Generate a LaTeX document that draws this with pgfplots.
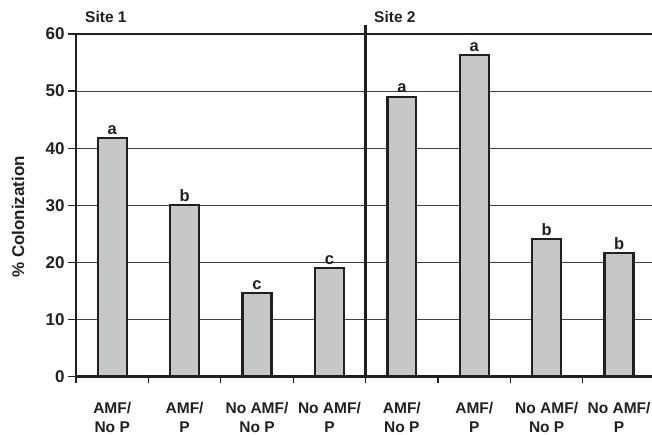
\documentclass[border=0pt]{standalone}
\usepackage{pgfplots}
\pgfplotsset{compat=1.18}
\usepackage{fontspec}
\setmainfont{Liberation Sans}
\definecolor{ax}{HTML}{231F20}
\definecolor{barfill}{HTML}{C6C7C8}
\begin{document}
\begin{tikzpicture}
\useasboundingbox (-76pt,-58.5pt) rectangle (576pt,376.5pt);
\begin{axis}[
 at={(0,0)}, anchor=south west,
 scale only axis, width=580pt, height=342.5pt,
 xmin=-0.5, xmax=7.51, ymin=0, ymax=60,
 axis x line=box, axis y line=left,
 axis line style={-, line width=2.6pt, color=ax},
 ybar, bar width=0.4,
 xtick={0,...,7},
 xticklabels={{AMF/\\No P},{AMF/\\P},{No AMF/\\No P},{No AMF/\\P},{AMF/\\No P},{AMF/\\P},{No AMF/\\No P},{No AMF/\\P}},
 xticklabel style={align=center, font=\fontsize{15.5}{19.5}\selectfont\bfseries, color=ax, yshift=-14pt},
 major x tick style={draw=none},
 minor xtick={-0.5,0.5,...,6.5},
 minor tick length=7pt,
 minor x tick style={line width=1.2pt, color=ax},
 ytick={0,10,...,60},
 major tick length=8pt,
 ytick style={line width=1.2pt, color=ax},
 tick align=outside,
 xtick pos=left, ytick pos=left,
 ymajorgrids, grid style={line width=1pt, color=ax!85},
 yticklabel style={font=\fontsize{17}{19}\selectfont\bfseries, color=ax},
 /pgf/number format/assume math mode=true,
 ylabel={\% Colonization},
 ylabel style={at={(axis description cs:-0.0998,0.466)}, anchor=center, font=\fontsize{17}{20}\selectfont\bfseries, color=ax},
 nodes near coords, point meta=explicit symbolic,
 every node near coord/.append style={font=\fontsize{16.5}{19}\selectfont\bfseries, color=ax, inner sep=2.5pt},
 clip=false,
]
\addplot[fill=barfill, draw=ax, line width=2.3pt, bar shift=0pt] coordinates {
 (0,41.8) [a]
 (1,30.0) [b]
 (2,14.6) [c]
 (3,19.0) [c]
 (4,49.0) [a]
 (5,56.3) [a]
 (6,24.1) [b]
 (7,21.6) [b]
};
\draw[line width=2.6pt, color=ax] (axis cs:3.5,0) -- (axis cs:3.5,61.6);
\node[anchor=base west, xshift=9pt, yshift=11pt, inner sep=0pt, font=\fontsize{15.5}{19}\selectfont\bfseries, color=ax] at (axis cs:-0.5,60) {Site 1};
\node[anchor=base west, xshift=8.4pt, yshift=11pt, inner sep=0pt, font=\fontsize{15.5}{19}\selectfont\bfseries, color=ax] at (axis cs:3.5,60) {Site 2};
\end{axis}
\end{tikzpicture}
\end{document}
